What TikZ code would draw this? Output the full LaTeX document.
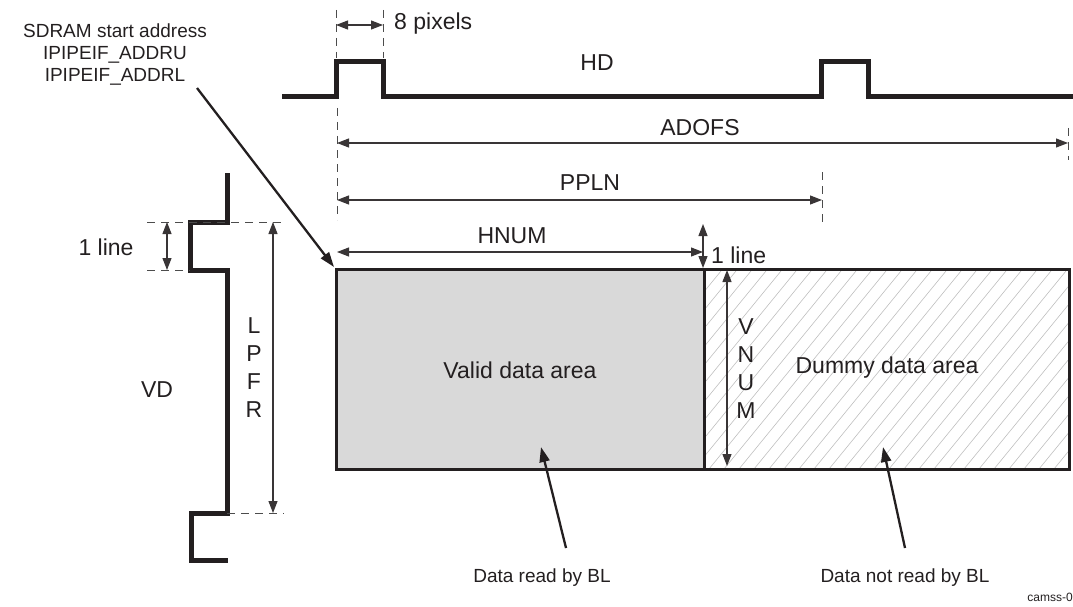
\documentclass[tikz,border=0pt]{standalone}
\usepackage{fontspec}
\setmainfont{Liberation Sans}
\usetikzlibrary{arrows.meta}
\definecolor{ink}{HTML}{231F20}
\begin{document}
\begin{tikzpicture}[x=1pt,y=-1pt,
  wave/.style={line width=5pt,line join=miter,draw=ink},
  dimline/.style={line width=1.1pt,draw=ink!90,{Triangle[length=12pt,width=9pt]}-{Triangle[length=12pt,width=9pt]}},
  extline/.style={line width=0.9pt,draw=black!70,dash pattern=on 8pt off 6pt},
  lead/.style={line width=2.3pt,draw=ink,-{Triangle[length=15pt,width=10pt]}},
  lbl/.style={font=\fontsize{23}{27}\selectfont,inner sep=0pt,text=ink},
  slbl/.style={font=\fontsize{19}{22}\selectfont,inner sep=0pt,text=ink},
  hatch/.style={line width=0.6pt,draw=black!25}]
\useasboundingbox (0,0) rectangle (1073,607);

% ---------- HD waveform ----------
\draw[wave] (282,97) -- (336,97) -- (336,62) -- (383,62) -- (383,97) -- (821,97) -- (821,62) -- (868,62) -- (868,97) -- (1073,97);
\node[lbl] (hd) at (597,63) {HD};

% 8 pixels
\coordinate (p8a) at (336,25);
\coordinate (p8b) at (383,25);
\draw[extline] (336,10) -- (336,58);
\draw[extline] (383,10) -- (383,58);
\draw[dimline] (p8a) -- (p8b);
\node[lbl,anchor=west] (pix) at (394,24) {8 pixels};

% ADOFS
\coordinate (ada) at (337,143);
\coordinate (adb) at (1068,143);
\draw[extline] (337,108) -- (337,220);
\draw[extline] (1068,128) -- (1068,160);
\draw[dimline] (ada) -- (adb);
\node[lbl] (adofs) at (700,128) {ADOFS};

% PPLN
\coordinate (ppa) at (337,200);
\coordinate (ppb) at (822,200);
\draw[extline] (822,172) -- (822,226);
\draw[dimline] (ppa) -- (ppb);
\node[lbl] (ppln) at (590,183) {PPLN};

% HNUM
\coordinate (hna) at (337,252);
\coordinate (hnb) at (703,252);
\draw[dimline] (hna) -- (hnb);
\node[lbl] (hnum) at (512,236) {HNUM};

% 1 line (right)
\coordinate (l1a) at (703,224);
\coordinate (l1b) at (703,268);
\draw[dimline] (l1a) -- (l1b);
\node[lbl,anchor=west] (oneline) at (711,255) {1 line};

% ---------- data areas ----------
\node[draw=ink,line width=2.5pt,fill=black!15,minimum width=368pt,minimum height=200pt,anchor=north west,inner sep=0pt] (valid) at (335,268) {};
\begin{scope}
  \clip (703,268) rectangle (1068,468);
  \foreach \i in {520,535,...,1090} \draw[hatch] (\i,480) -- ++(180,-220);
\end{scope}
\node[draw=ink,line width=2.5pt,minimum width=365pt,minimum height=200pt,anchor=north west,inner sep=0pt] (dummy) at (703,268) {};
\node[lbl] (validtxt) at (520,370) {Valid data area};
\node[lbl] (dummytxt) at (887,368) {Dummy data area};

% VNUM
\coordinate (vna) at (727,270);
\coordinate (vnb) at (727,466);
\draw[dimline] (vna) -- (vnb);
\node[lbl,align=center,font=\fontsize{23}{28}\selectfont] (vnum) at (746,369) {V\\N\\U\\M};

% ---------- VD waveform ----------
\draw[wave] (227,173) -- (227,222) -- (190,222) -- (190,270) -- (227,270) -- (227,513) -- (191,513) -- (191,560) -- (228,560);
\node[lbl] (vd) at (157,390) {VD};

\draw[extline] (147,222) -- (284,222);
\draw[extline] (147,270) -- (190,270);
\draw[extline] (227,513) -- (284,513);

\coordinate (lla) at (167,222);
\coordinate (llb) at (167,270);
\draw[dimline] (lla) -- (llb);
\node[lbl] (oneleft) at (106,247) {1 line};

\coordinate (lpa) at (273,222);
\coordinate (lpb) at (273,513);
\draw[dimline] (lpa) -- (lpb);
\node[lbl,align=center,font=\fontsize{23}{28}\selectfont] (lpfr) at (254,368) {L\\P\\F\\R};

% ---------- SDRAM start address ----------
\node[slbl,align=center] (sdram) at (115,55) {SDRAM start address\\IPIPEIF\_ADDRU\\IPIPEIF\_ADDRL};
\coordinate (sdtail) at (197,88);
\coordinate (sdtip) at (334,267);
\draw[lead] (sdtail) -- (sdtip);

% ---------- bottom labels ----------
\node[slbl] (readbl) at (542,578) {Data read by BL};
\node[slbl] (notreadbl) at (905,578) {Data not read by BL};
\coordinate (rt) at (541,447);
\coordinate (nt) at (883,447);
\coordinate (rs) at (566,548);
\coordinate (ns) at (905,548);
\draw[lead] (rs) -- (rt);
\draw[lead] (ns) -- (nt);

\node[font=\fontsize{12}{14}\selectfont,anchor=east,inner sep=0pt,text=ink] (camss) at (1073,597) {camss-0};
\end{tikzpicture}
\end{document}
